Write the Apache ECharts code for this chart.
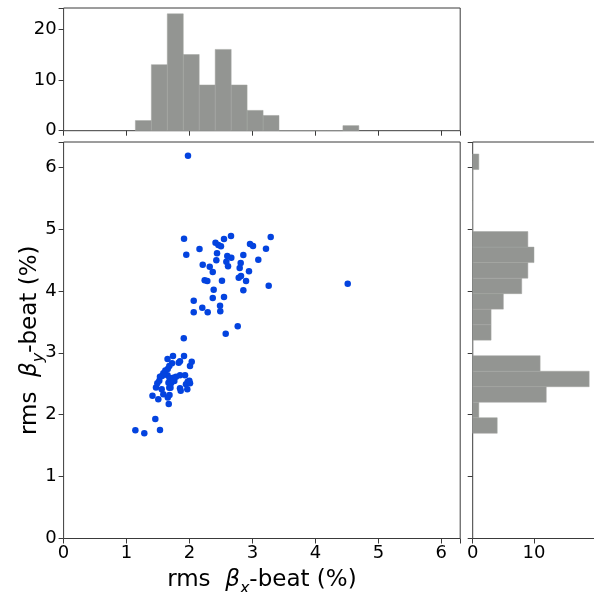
<!DOCTYPE html>
<html>
<head>
<meta charset="utf-8">
<script src="https://cdn.jsdelivr.net/npm/echarts@6/dist/echarts.min.js"></script>
<style>
html,body{margin:0;padding:0;background:#fff;}
#c{width:594px;height:592px;}
</style>
</head>
<body>
<div id="c"></div>
<script>
// ---- data ----
var betaX = [1.913,1.949,2.159,2.413,2.458,2.500,2.548,2.659,2.437,2.426,2.600,2.664,2.585,2.612,2.855,3.009,3.290,3.215,3.093,2.813,2.797,2.945,2.210,2.321,2.369,2.818,2.782,2.898,2.241,2.283,2.516,3.258,2.855,2.384,2.067,2.369,2.548,2.203,2.485,2.067,2.289,2.489,2.766,2.575,1.909,4.513,1.976,2.961,
  1.140,1.282,1.531,1.457,1.670,1.412,1.504,1.584,1.655,1.682,1.468,1.558,1.679,1.849,1.860,1.965,1.489,1.520,1.666,1.706,1.759,1.722,1.944,1.971,2.008,1.997,1.563,1.651,1.682,1.743,1.786,1.849,1.929,1.584,1.616,1.654,1.679,1.722,1.828,1.849,2.008,2.035,1.651,1.738,1.913,1.531,1.698];
var betaY = [4.843,4.585,4.677,4.779,4.742,4.721,4.838,4.887,4.607,4.494,4.564,4.536,4.472,4.397,4.580,4.725,4.871,4.682,4.504,4.451,4.370,4.317,4.423,4.391,4.305,4.241,4.213,4.160,4.171,4.160,4.165,4.084,4.010,4.019,3.842,3.885,3.901,3.729,3.761,3.654,3.654,3.670,3.428,3.309,3.234,4.116,6.184,4.758,
  1.748,1.700,1.753,1.931,2.173,2.307,2.249,2.330,2.278,2.318,2.439,2.410,2.436,2.427,2.388,2.410,2.507,2.549,2.517,2.507,2.544,2.561,2.491,2.533,2.507,2.549,2.625,2.637,2.593,2.598,2.614,2.637,2.637,2.669,2.714,2.738,2.787,2.830,2.840,2.863,2.787,2.856,2.900,2.948,2.948,2.614,2.435];

var xBinEdges = [1.140,1.394,1.647,1.901,2.154,2.408,2.662,2.915,3.169,3.422,3.676,3.930,4.183,4.437,4.690];
var xCounts   = [2,13,23,15,9,16,9,4,3,0,0,0,0,1];
var yBinEdges = [1.700,1.951,2.201,2.452,2.702,2.953,3.204,3.454,3.705,3.955,4.206,4.457,4.707,4.958,5.208,5.459,5.710,5.960,6.211];
var yCounts   = [4,1,12,19,11,0,3,3,5,8,9,10,9,0,0,0,0,1];

// ---- build ----
var scatterData = betaX.map(function(v,i){return [v, betaY[i]];});
var topData = xCounts.map(function(c,i){return [xBinEdges[i], xBinEdges[i+1], c];});
var rightData = yCounts.map(function(c,i){return [yBinEdges[i], yBinEdges[i+1], c];});

var FONT = 'DejaVu Sans';
var SPINE = '#3a3a3a';
var BAR = '#939592';
var BLUE = '#0343DF';

function lbl(show, margin){
  return {show: show, fontSize: 18, color: '#000', fontFamily: FONT, margin: margin,
    formatter: function(v){ return (Math.abs(v - Math.round(v)) < 1e-9) ? String(Math.round(v)) : ''; }};
}
var tick = {show: true, inside: false, length: 5, lineStyle: {color: SPINE, width: 1}};
var noLine = {show: false};

var titleRich = {
  r: {fontSize: 23, fontFamily: FONT, color: '#000', lineHeight: 28, verticalAlign: 'top'},
  b: {fontSize: 23, fontFamily: FONT, fontStyle: 'italic', color: '#000', lineHeight: 28, verticalAlign: 'top'},
  s: {fontSize: 16, fontFamily: FONT, fontStyle: 'italic', color: '#000', lineHeight: 16, verticalAlign: 'top', padding: [12,0,0,0]}
};

function grid(l, t, w, h){
  return {left: l, top: t, width: w, height: h, show: true, borderColor: SPINE, borderWidth: 1,
          backgroundColor: 'transparent', containLabel: false, outerBoundsMode: 'none'};
}

var chart = echarts.init(document.getElementById('c'), null, {renderer: 'canvas'});
chart.setOption({
  animation: false,
  backgroundColor: '#fff',
  grid: [
    grid(63.6, 142, 396.6, 396.5),
    grid(63.6, 8, 396.6, 122.7),
    grid(472.7, 142, 122.3, 396.5)
  ],
  xAxis: [
    {type: 'value', gridIndex: 0, min: 0, max: 6.3, interval: 1, axisLine: noLine, axisTick: tick, splitLine: {show: false}, axisLabel: lbl(true, 6),
     name: '{r|rms  }{b|β}{s|x}{r|-beat (%)}', nameLocation: 'middle', nameGap: 30, nameMoveOverlap: false,
     nameTextStyle: {rich: titleRich}},
    {type: 'value', gridIndex: 1, min: 0, max: 6.3, interval: 1, axisLine: noLine, axisTick: tick, splitLine: {show: false}, axisLabel: {show: false}},
    {type: 'value', gridIndex: 2, min: 0, max: 19.95, interval: 10, axisLine: noLine, axisTick: tick, splitLine: {show: false}, axisLabel: lbl(true, 6)}
  ],
  yAxis: [
    {type: 'value', gridIndex: 0, min: 0, max: 6.405, interval: 1, axisLine: noLine, axisTick: tick, splitLine: {show: false}, axisLabel: lbl(true, 7),
     name: '{r|rms  }{b|β}{s|y}{r|-beat (%)}', nameLocation: 'middle', nameGap: 17, nameRotate: 90, nameMoveOverlap: false,
     nameTextStyle: {rich: titleRich}},
    {type: 'value', gridIndex: 1, min: 0, max: 24.15, interval: 10, axisLine: noLine, axisTick: tick, splitLine: {show: false}, axisLabel: lbl(true, 7)},
    {type: 'value', gridIndex: 2, min: 0, max: 6.405, interval: 1, axisLine: noLine, axisTick: tick, splitLine: {show: false}, axisLabel: {show: false}}
  ],
  series: [
    {type: 'scatter', xAxisIndex: 0, yAxisIndex: 0, data: scatterData, symbol: 'circle', symbolSize: 6.5,
     itemStyle: {color: BLUE, opacity: 1}, z: 5},
    {type: 'custom', xAxisIndex: 1, yAxisIndex: 1, data: topData,
     encode: {x: [0,1], y: 2},
     renderItem: function(params, api){
       var a = api.coord([api.value(0), 0]);
       var b = api.coord([api.value(1), api.value(2)]);
       return {type: 'rect', shape: {x: a[0], y: b[1], width: b[0]-a[0], height: a[1]-b[1]},
               style: {fill: BAR, stroke: '#a3a4a1', lineWidth: 0.5}};
     }},
    {type: 'custom', xAxisIndex: 2, yAxisIndex: 2, data: rightData,
     encode: {y: [0,1], x: 2},
     renderItem: function(params, api){
       var a = api.coord([0, api.value(0)]);
       var b = api.coord([api.value(2), api.value(1)]);
       return {type: 'rect', shape: {x: a[0], y: b[1], width: b[0]-a[0], height: a[1]-b[1]},
               style: {fill: BAR, stroke: '#a3a4a1', lineWidth: 0.5}};
     }}
  ]
});
</script>
</body>
</html>
